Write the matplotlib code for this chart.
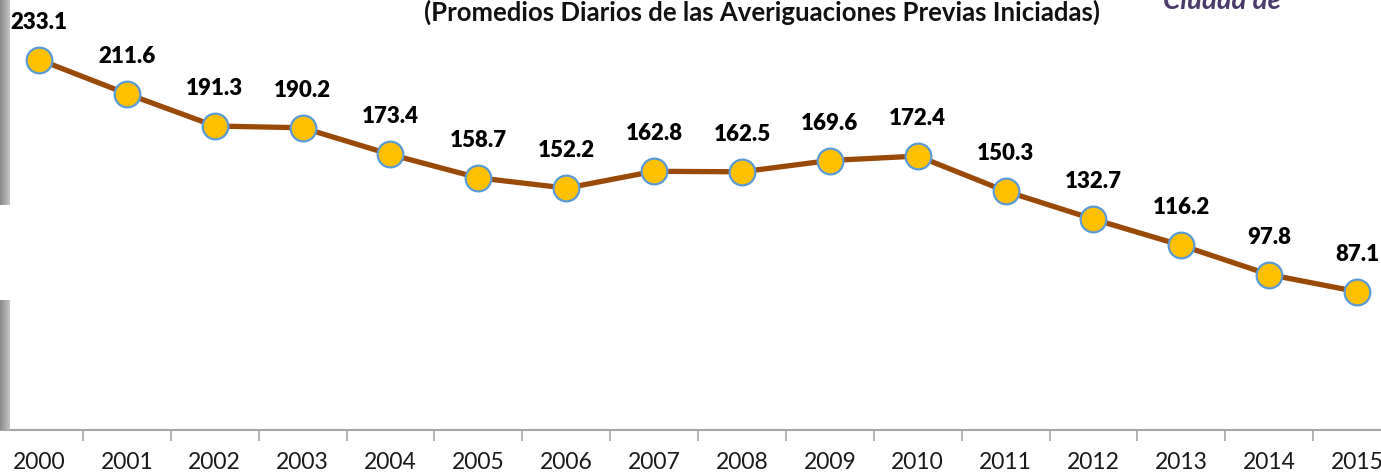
import matplotlib.pyplot as plt
import numpy as np

# Promedios diarios de averiguaciones previas iniciadas
years = ["2000", "2001", "2002", "2003", "2004", "2005", "2006", "2007",
         "2008", "2009", "2010", "2011", "2012", "2013", "2014", "2015"]
values = [233.1, 211.6, 191.3, 190.2, 173.4, 158.7, 152.2, 162.8,
          162.5, 169.6, 172.4, 150.3, 132.7, 116.2, 97.8, 87.1]

title = "(Promedios Diarios de las Averiguaciones Previas Iniciadas)"

plt.rcParams['font.family'] = ['Lato', 'DejaVu Sans']

W, H = 1381, 473
fig = plt.figure(figsize=(W / 100, H / 100), dpi=100)

# axes: bottom at the x-axis line (y=430 px), top at figure top
ax = fig.add_axes([0, (H - 430) / H, 1, 430 / H])
x = np.arange(len(years))

ax.plot(x, values, color="#9A4A08", lw=3.8, zorder=2,
        marker="o", markersize=18.5, markerfacecolor="#FFC000",
        markeredgecolor="#5B9BD5", markeredgewidth=1.6)

for xi, v in zip(x, values):
    ax.annotate(f"{v:.1f}", (xi, v), xytext=(0, 27), textcoords="offset points",
                ha="center", va="center", fontsize=16, fontweight="heavy",
                color="black", annotation_clip=False)

# axis styling
for s in ["top", "right", "left"]:
    ax.spines[s].set_visible(False)
ax.spines["bottom"].set_color("#A6A6A6")
ax.spines["bottom"].set_linewidth(1.5)
ax.set_yticks([])
ax.set_xticks(np.arange(-0.5, len(years), 1.0))
ax.set_xticklabels([])
ax.tick_params(axis="x", length=8, width=1.2, color="#A6A6A6")
ax.set_xticks(x, minor=True)
ax.set_xticklabels(years, minor=True, fontsize=16.5, color="#1a1a1a")
ax.tick_params(axis="x", which="minor", length=0, pad=16)

# limits after ticks so they are not widened
step = 87.87
ax.set_xlim(-39 / step, (W - 39) / step)
ax.set_ylim(0, 430 / 1.589)

fig.text(762 / W, 1 - 12 / H, title, ha="center", va="center",
         fontsize=18.5, fontweight="bold", color="#111111")
fig.text(1163 / W, 1 - 9 / H, "Ciudad de", ha="left", va="baseline",
         fontsize=20, fontweight="bold", style="italic", color="#4B3B6B")

# faint grey shading at the left edge
for y0, y1 in [(0, 205), (300, 430)]:
    grad = np.linspace(0.55, 1.0, 20).reshape(1, -1)
    fig.figimage(np.repeat(np.repeat(grad, y1 - y0, axis=0)[:, :, None], 3, axis=2)[:, :10],
                 xo=0, yo=H - y1, zorder=5)

fig.savefig("out.png", dpi=100)
